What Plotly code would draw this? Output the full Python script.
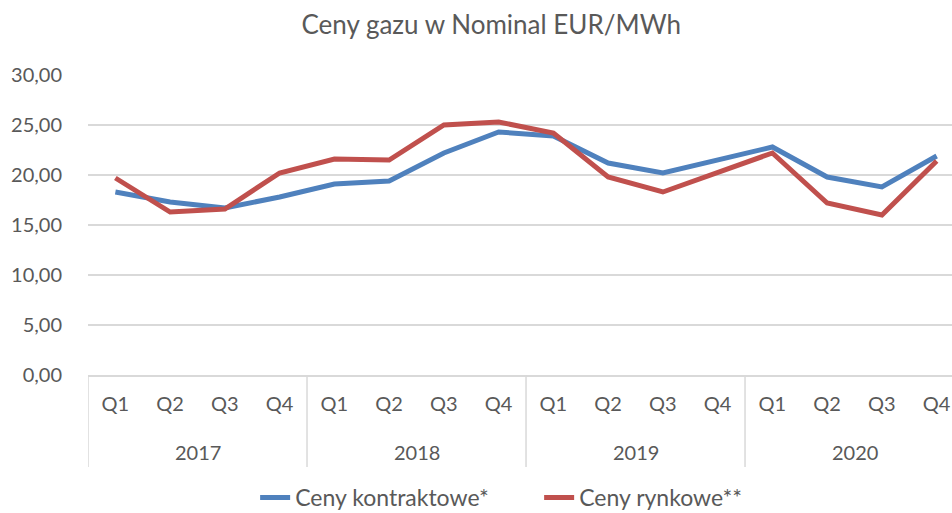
import plotly.graph_objects as go

years = ["2017"] * 4 + ["2018"] * 4 + ["2019"] * 4 + ["2020"] * 4
quarters = ["Q1", "Q2", "Q3", "Q4"] * 4
year_labels = ["2017", "2018", "2019", "2020"]
contract = [18.3, 17.3, 16.7, 17.8, 19.1, 19.4, 22.2, 24.3,
            23.9, 21.2, 20.2, 21.5, 22.8, 19.8, 18.8, 21.9]
market = [19.7, 16.3, 16.6, 20.2, 21.6, 21.5, 25.0, 25.3,
          24.2, 19.8, 18.3, 20.3, 22.2, 17.2, 16.0, 21.4]

cats = [f"{y} {q}" for y, q in zip(years, quarters)]

font_family = "Lato, sans-serif"
grey = "#595959"
gridc = "#d9d9d9"

fig = go.Figure()
fig.add_trace(go.Scatter(x=cats, y=contract, mode="lines",
                         name="Ceny kontraktowe*",
                         line=dict(color="#4f81bd", width=5)))
fig.add_trace(go.Scatter(x=cats, y=market, mode="lines",
                         name="Ceny rynkowe**",
                         line=dict(color="#c0504d", width=5)))

# year group labels and dividers
for i, yl in enumerate(year_labels):
    fig.add_annotation(x=i * 4 + 1.5, xref="x", y=-0.257, yref="paper",
                       text=yl, showarrow=False, yanchor="middle",
                       font=dict(family=font_family, size=20, color=grey))
for i in range(len(year_labels)):
    fig.add_shape(type="line", xref="x", yref="paper",
                  x0=i * 4 - 0.5, x1=i * 4 - 0.5, y0=0, y1=-0.307,
                  line=dict(color=gridc, width=1.5))

fig.update_layout(
    width=952, height=513,
    margin=dict(l=88, r=0, t=75, b=138),
    paper_bgcolor="white", plot_bgcolor="white",
    separators=", ",
    title=dict(text="Ceny gazu w Nominal EUR/MWh", x=0.516, xanchor="center",
               y=0.951, yanchor="middle",
               font=dict(family=font_family, size=26, color=grey)),
    font=dict(family=font_family, size=20, color=grey),
    showlegend=True,
    legend=dict(orientation="h", xref="container", yref="container",
                x=0.268, xanchor="left", y=0.072, yanchor="top",
                font=dict(size=23, color=grey), entrywidth=239,
                entrywidthmode="pixels", tracegroupgap=0),
    hovermode=False,
)
fig.update_xaxes(type="category", range=[-0.5, 15.28], automargin=False,
                 tickvals=cats, ticktext=quarters,
                 showgrid=False, showline=True, linecolor=gridc,
                 linewidth=1.5, ticks="", ticklabelstandoff=10,
                 tickfont=dict(size=20, color=grey))
fig.update_yaxes(range=[0, 30], dtick=5, tickformat=".2f", automargin=False,
                 showgrid=True, gridcolor=gridc, gridwidth=1.5,
                 zeroline=False, showline=False, ticks="",
                 ticklabelstandoff=25,
                 tickfont=dict(size=20, color=grey))

fig.write_html(
    "out.html",
    config={"displayModeBar": False, "staticPlot": True},
    post_script=(
        "var s=document.documentElement.style;s.margin='0';s.padding='0';"
        "s.overflow='hidden';"
        "var b=document.body.style;b.margin='0';b.padding='0';"
        "b.overflow='hidden';"
    ),
)
